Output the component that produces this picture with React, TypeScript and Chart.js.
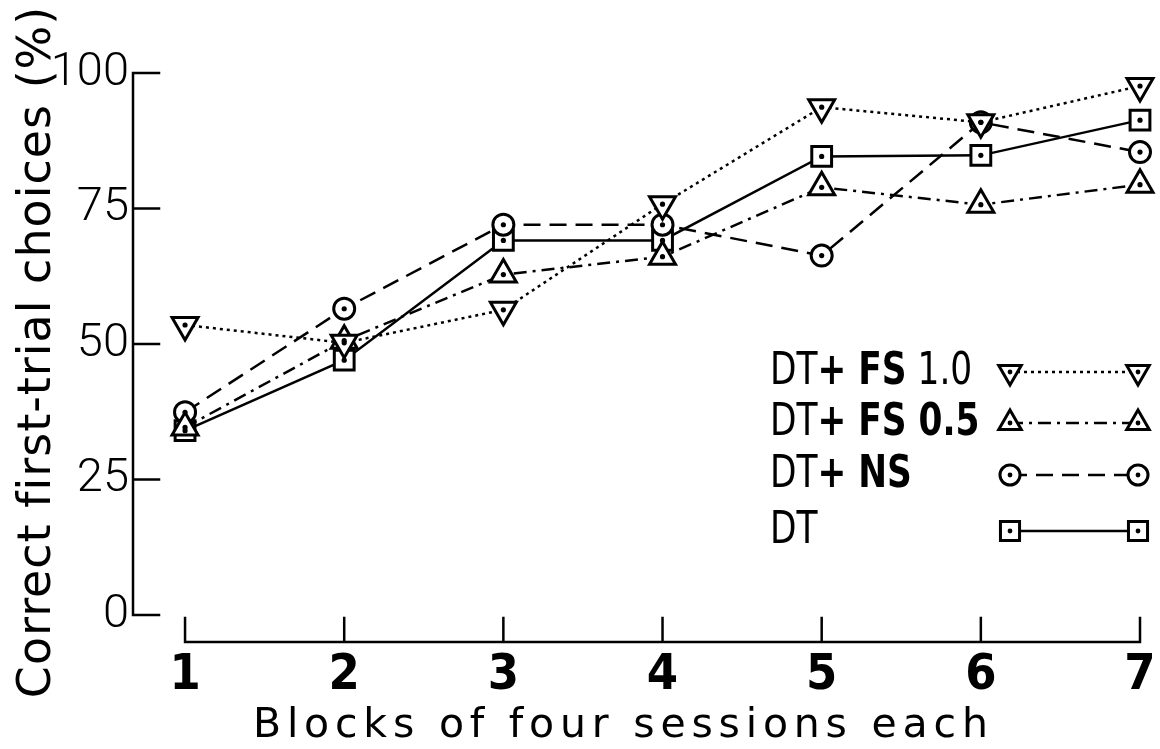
import React, { useEffect, useRef } from 'react';
import { Chart, registerables } from 'chart.js';
import { drawPoint } from 'chart.js/helpers';

Chart.register(...registerables);

// ---- data ----
const blocks = [1, 2, 3, 4, 5, 6, 7];
const fs10Values = [53.5, 50.2, 56.3, 75.8, 93.7, 90.9, 97.6];
const fs05Values = [34.6, 50.6, 62.8, 66.1, 78.9, 75.7, 79.4];
const nsValues = [37.4, 56.5, 72.0, 72.0, 66.3, 90.9, 85.4];
const dtValues = [34.0, 47.0, 69.1, 69.1, 84.6, 84.8, 91.3];
const yTickValues = [0, 25, 50, 75, 100];
const seriesLabels = ['DT+ FS 1.0', 'DT+ FS 0.5', 'DT+ NS', 'DT'];
const legendParts: [string, boolean][][] = [
  [['DT', false], ['+ ', true], ['FS', true], [' 1.0', false]],
  [['DT', false], ['+ ', true], ['FS 0.5', true]],
  [['DT', false], ['+ ', true], ['NS', true]],
  [['DT', false]],
];
const xTitle = 'Blocks of four sessions each';
const yTitle = 'Correct first-trial choices (%)';

const COND = "'DejaVu Sans Condensed', 'DejaVu Sans', sans-serif";
const SANS = "'DejaVu Sans', sans-serif";

const decorPlugin = {
  id: 'decor',
  beforeDatasetsDraw(chart: any) {
    const { ctx, chartArea, scales } = chart;
    const xs = scales.x;
    const ys = scales.y;
    const left = chartArea.left;
    const bottom = chartArea.bottom;
    ctx.save();
    ctx.strokeStyle = '#000';
    ctx.lineWidth = 2.5;
    ctx.lineCap = 'square';
    ctx.beginPath();
    ctx.moveTo(left, ys.getPixelForValue(yTickValues[yTickValues.length - 1]));
    ctx.lineTo(left, ys.getPixelForValue(yTickValues[0]));
    yTickValues.forEach((v) => {
      const py = ys.getPixelForValue(v);
      ctx.moveTo(left, py);
      ctx.lineTo(left + 26, py);
    });
    ctx.moveTo(xs.getPixelForValue(blocks[0]), bottom);
    ctx.lineTo(xs.getPixelForValue(blocks[blocks.length - 1]), bottom);
    blocks.forEach((b) => {
      const px = xs.getPixelForValue(b);
      ctx.moveTo(px, bottom);
      ctx.lineTo(px, bottom - 24);
    });
    ctx.stroke();

    // axis titles (letter-spaced)
    ctx.fillStyle = '#000';
    ctx.textBaseline = 'alphabetic';
    ctx.textAlign = 'left';
    ctx.font = `41px ${SANS}`;
    (ctx as any).letterSpacing = '5.8px';
    ctx.fillText(xTitle, 253, 737);
    ctx.save();
    ctx.translate(50, 352);
    ctx.rotate(-Math.PI / 2);
    ctx.textAlign = 'center';
    ctx.font = `46px ${SANS}`;
    (ctx as any).letterSpacing = '1px';
    ctx.fillText(yTitle, 0, 0);
    ctx.restore();
    (ctx as any).letterSpacing = '0px';
    ctx.restore();
  },
  afterDatasetsDraw(chart: any) {
    const { ctx } = chart;
    ctx.save();
    // centre dots of markers
    ctx.fillStyle = '#000';
    chart.data.datasets.forEach((_ds: any, i: number) => {
      const meta = chart.getDatasetMeta(i);
      meta.data.forEach((el: any) => {
        ctx.beginPath();
        ctx.arc(el.x, el.y, 2.6, 0, Math.PI * 2);
        ctx.fill();
      });
    });
    // legend
    const rows = [372, 423, 475, 531];
    const textX = 770;
    const mx1 = 1010;
    const mx2 = 1138;
    const squeeze = 0.85;
    chart.data.datasets.forEach((ds: any, i: number) => {
      const y = rows[i];
      ctx.save();
      ctx.translate(textX, y);
      ctx.scale(squeeze, 1);
      let x = 0;
      ctx.fillStyle = '#000';
      ctx.textBaseline = 'middle';
      ctx.textAlign = 'left';
      legendParts[i].forEach(([t, bold]) => {
        ctx.font = `${bold ? 'bold ' : ''}45px ${COND}`;
        ctx.fillText(t, x, 0);
        x += ctx.measureText(t).width;
      });
      ctx.restore();
      ctx.strokeStyle = '#000';
      ctx.lineWidth = ds.borderWidth;
      ctx.setLineDash(ds.borderDash || []);
      ctx.beginPath();
      ctx.moveTo(mx1, y);
      ctx.lineTo(mx2, y);
      ctx.stroke();
      ctx.setLineDash([]);
      ctx.lineWidth = ds.pointBorderWidth;
      [mx1, mx2].forEach((mx) => {
        ctx.fillStyle = '#fff';
        ctx.strokeStyle = '#000';
        drawPoint(
          ctx,
          {
            pointStyle: ds.pointStyle,
            rotation: ds.pointRotation || 0,
            radius: ds.legendRadius,
            borderWidth: ds.pointBorderWidth,
          } as any,
          mx,
          y
        );
        ctx.fillStyle = '#000';
        ctx.beginPath();
        ctx.arc(mx, y, 2.4, 0, Math.PI * 2);
        ctx.fill();
      });
    });
    ctx.restore();
  },
};

export default function App() {
  const canvasRef = useRef<HTMLCanvasElement | null>(null);

  useEffect(() => {
    const canvas = canvasRef.current;
    if (!canvas) return;
    const common = {
      borderColor: '#000',
      pointBorderColor: '#000',
      pointBackgroundColor: '#fff',
      pointBorderWidth: 3,
      borderWidth: 2.5,
      fill: false,
      tension: 0,
      clip: false as any,
    };
    const chart = new Chart(canvas, {
      type: 'line',
      data: {
        labels: blocks,
        datasets: [
          {
            ...common,
            label: seriesLabels[0],
            data: blocks.map((b, i) => ({ x: b, y: fs10Values[i] })),
            pointStyle: 'triangle',
            pointRotation: 180,
            pointRadius: 15,
            borderDash: [3, 4],
            borderWidth: 2.5,
            legendRadius: 13,
          } as any,
          {
            ...common,
            label: seriesLabels[1],
            data: blocks.map((b, i) => ({ x: b, y: fs05Values[i] })),
            pointStyle: 'triangle',
            pointRadius: 15,
            borderDash: [13, 6, 3, 6],
            legendRadius: 13,
          } as any,
          {
            ...common,
            label: seriesLabels[2],
            data: blocks.map((b, i) => ({ x: b, y: nsValues[i] })),
            pointStyle: 'circle',
            pointRadius: 10.5,
            borderDash: [17, 9],
            legendRadius: 10,
          } as any,
          {
            ...common,
            label: seriesLabels[3],
            data: blocks.map((b, i) => ({ x: b, y: dtValues[i] })),
            pointStyle: 'rect',
            pointRadius: 14,
            borderDash: [],
            legendRadius: 13.5,
          } as any,
        ],
      },
      options: {
        animation: false,
        responsive: false,
        devicePixelRatio: 1,
        layout: { padding: { top: 73, right: 20, left: 0, bottom: 0 } },
        plugins: {
          legend: { display: false },
          tooltip: { enabled: false },
        },
        scales: {
          x: {
            type: 'linear',
            min: 0.673,
            max: 7,
            grid: { display: false, drawTicks: false },
            border: { display: false },
            afterBuildTicks: (s: any) => {
              s.ticks = blocks.map((v) => ({ value: v }));
            },
            afterFit: (s: any) => {
              s.height = 107;
              s.paddingLeft = 0;
              s.paddingRight = 0;
            },
            ticks: {
              autoSkip: false,
              maxRotation: 0,
              padding: 4,
              color: '#000',
              font: { family: COND, size: 50, weight: 'bold' },
            },
            title: { display: false },
          },
          y: {
            type: 'linear',
            min: -5,
            max: 100,
            grid: { display: false, drawTicks: false },
            border: { display: false },
            afterBuildTicks: (s: any) => {
              s.ticks = yTickValues.map((v) => ({ value: v }));
            },
            afterFit: (s: any) => {
              s.width = 133;
              s.paddingTop = 0;
              s.paddingBottom = 0;
            },
            ticks: {
              padding: 4,
              color: '#000',
              font: { family: 'Roboto, sans-serif', size: 47, weight: '300' },
            },
            title: { display: false },
          },
        },
      } as any,
      plugins: [decorPlugin],
    });
    return () => chart.destroy();
  }, []);

  return (
    <div style={{ position: 'absolute', left: 0, top: 0, width: 1160, height: 749, background: '#fff' }}>
      <canvas ref={canvasRef} width={1160} height={749} />
    </div>
  );
}
